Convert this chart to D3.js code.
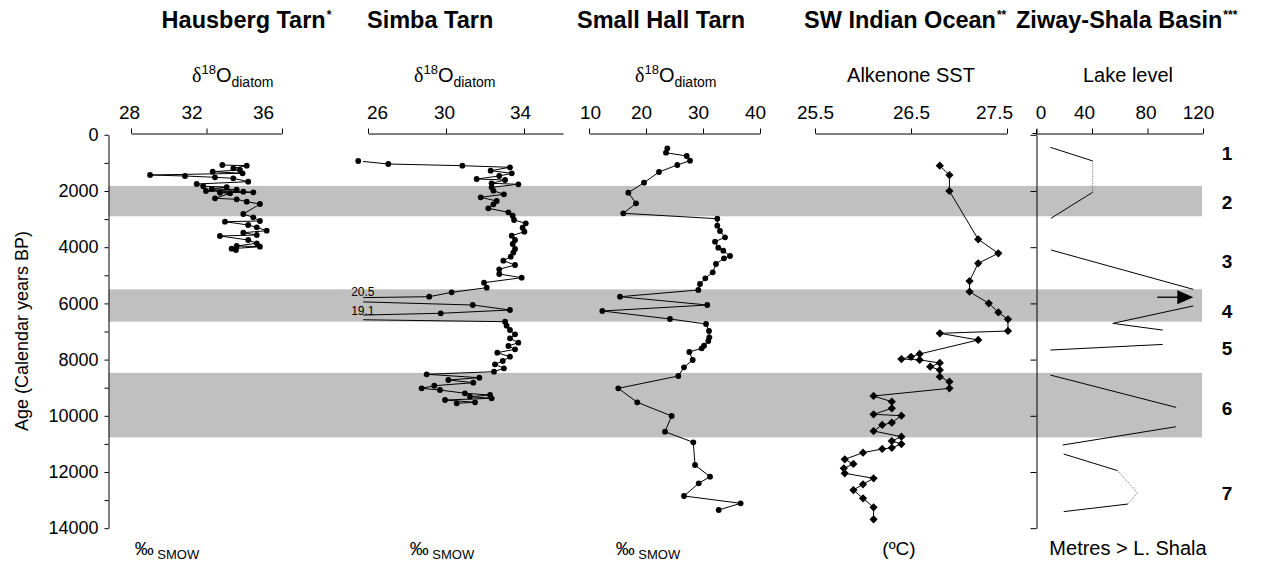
<!DOCTYPE html>
<html><head><meta charset="utf-8">
<script src="https://cdn.jsdelivr.net/npm/d3@7"></script>
<style>
body{margin:0;background:#fff;}
text{font-family:"Liberation Sans",Arial,Helvetica,sans-serif;fill:#000;}
</style>
</head><body>
<svg id="c" width="1272" height="568"></svg>
<script>
// ---------------- DATA ----------------
const ageTicks = d3.range(0, 14001, 1000);
const ziwayAgeTicks = d3.range(0, 14001, 2000);
const bands = [[1820, 2900], [5500, 6650], [8470, 10770]];

const hausbergTicks = [28, 32, 36];
const simbaTicks = [26, 30, 34];
const smallHallTicks = [10, 20, 30, 40];
const sstTicks = [25.5, 26.5, 27.5];
const lakeTicks = [0, 40, 80, 120];

// [age (cal yr BP), d18O diatom]
const hausberg = [
 [1075,32.84],[1100,34.13],[1192,33.42],[1253,33.77],[1313,32.33],[1370,33.91],[1431,29.01],[1466,30.86],
 [1513,32.45],[1548,33.42],[1669,34.21],[1751,31.48],[1830,31.83],[1860,33.07],[1925,32.28],[1955,33.60],
 [2000,31.97],[2025,33.95],[2046,34.48],[2060,32.71],[2082,33.25],[2260,32.45],[2295,33.60],[2381,34.13],
 [2463,34.83],[2819,33.95],[2936,34.48],[3068,34.83],[3092,32.98],[3210,34.21],[3292,34.66],[3413,35.19],
 [3484,33.95],[3566,34.66],[3601,32.71],[3744,34.21],[3861,34.66],[3957,33.60],[3982,34.83],[4053,33.33],
 [4100,33.56]
];
const simba = [
 [932,25.50],[1039,27.04],[1100,30.84],[1157,33.28],[1277,32.29],[1370,33.37],[1466,32.73],[1573,31.57],
 [1609,33.03],[1726,32.34],[1762,33.71],[1868,32.34],[1989,32.43],[2117,32.97],[2224,31.78],[2356,32.60],
 [2473,32.43],[2616,32.17],[2758,33.20],[2879,33.42],[3032,33.49],[3149,34.09],[3306,33.93],[3448,34.02],
 [3591,33.37],[3744,33.54],[3886,33.42],[4064,33.54],[4196,33.45],[4338,33.32],[4480,32.94],[4633,33.54],
 [4786,32.73],[4954,32.73],[5085,33.88],[5263,31.95],[5441,32.09],[5605,30.29],[5762,29.14],[5843,20.5],
 [6057,31.37],[6235,33.28],[6352,29.73],[6520,19.1],[6651,33.03],[6794,33.11],[6947,33.28],[7100,33.54],
 [7242,33.28],[7398,33.71],[7516,33.20],[7633,33.54],[7754,32.63],[7897,33.28],[8050,32.91],[8167,32.51],
 [8310,32.97],[8431,32.46],[8523,29.01],[8644,31.71],[8726,30.12],[8822,31.40],[8929,29.40],[9022,28.75],
 [9082,29.69],[9199,30.97],[9260,32.26],[9320,31.23],[9377,32.34],[9438,29.95],[9520,31.49],[9555,30.55]
];
const smallHall = [
 [480,23.74],[637,23.51],[754,27.14],[922,27.72],[1075,25.49],[1324,22.28],[1705,19.65],[2060,16.90],
 [2438,18.25],[2794,16.02],[2986,32.51],[3235,32.51],[3423,32.98],[3648,33.86],[3804,32.11],[4018,32.68],
 [4125,33.56],[4313,34.74],[4395,33.68],[4598,32.28],[4893,31.70],[5107,30.40],[5310,29.47],[5523,29.18],
 [5762,15.44],[6057,30.75],[6270,12.34],[6555,24.21],[6733,30.53],[6982,31.05],[7206,31.11],[7338,30.93],
 [7505,30.18],[7598,29.77],[7730,27.60],[8014,28.19],[8274,26.67],[8584,25.67],[9022,15.14],[9520,18.47],
 [10007,24.50],[10566,23.33],[10943,28.30],[11751,28.60],[12167,31.23],[12402,29.25],[12854,26.67],
 [13114,36.60],[13352,32.75]
];
// [age, alkenone SST degC]
const sst = [
 [1100,26.80],[1431,26.90],[2000,26.90],[3719,27.20],[4217,27.41],[4573,27.20],[5203,27.11],[5584,27.11],
 [5996,27.31],[6317,27.41],[6566,27.51],[6982,27.51],[7064,26.80],[7302,27.20],[7800,26.59],[7900,26.50],
 [7980,26.40],[8010,26.59],[8120,26.80],[8253,26.70],[8370,26.80],[8608,26.80],[8786,26.90],[9022,26.90],
 [9295,26.11],[9498,26.30],[9733,26.30],[9947,26.11],[9997,26.40],[10246,26.30],[10327,26.20],[10541,26.11],
 [10744,26.40],[10897,26.30],[11004,26.40],[11140,26.30],[11180,26.20],[11313,26.00],[11548,25.81],
 [11715,25.90],[11868,25.80],[12046,25.81],[12224,26.11],[12438,26.00],[12641,25.90],[12936,26.00],
 [13256,26.11],[13683,26.11]
];
// Ziway-Shala lake level [age, metres above L. Shala]
const lakeSolid = [
 [[445,10],[930,40.5]],
 [[2046,40.5],[2970,10.5]],
 [[4100,10.5],[5500,113]],
 [[6090,113],[6710,55],[6950,91]],
 [[7660,10],[7460,91]],
 [[8550,10],[9700,100.6]],
 [[10390,100.4],[11040,18.9]],
 [[11360,19.6],[11950,58.4]],
 [[13140,65.9],[13410,19.6]]
];
const lakeDotted = [
 [[930,40.5],[2046,40.5]],
 [[11950,58.4],[12740,72.8],[13140,65.9]]
];
const lakeArrow = {age: 5780, from: 87, to: 113};
const periods = [[1,648],[2,2380],[3,4498],[4,6270],[5,7577],[6,9733],[7,12758]];

// ---------------- LAYOUT ----------------
const svg = d3.select("#c");
svg.append("rect").attr("width",1272).attr("height",568).attr("fill","#fff");

const axisY = 133.5;
const y = d3.scaleLinear().domain([0,14000]).range([134.8, 528.2]);
const ageAxisX = 108.5;
const bandRight = 1202;

// bands
svg.append("g").selectAll("rect").data(bands).join("rect")
  .attr("x", ageAxisX).attr("width", bandRight - ageAxisX)
  .attr("y", d => y(d[0])).attr("height", d => y(d[1]) - y(d[0]))
  .attr("fill", "#c0c0c0");

// age axis
const ageG = svg.append("g").attr("transform", `translate(${ageAxisX},0)`)
  .call(d3.axisLeft(y).tickValues(ageTicks).tickSize(4).tickSizeOuter(0).tickPadding(6)
    .tickFormat(d => d % 2000 === 0 ? d : ""));
ageG.selectAll("text").attr("font-size", 18).attr("font-family", '"Liberation Sans",Arial,sans-serif');
ageG.selectAll("line,path").attr("stroke", "#000");

svg.append("text").attr("transform", "translate(28,331) rotate(-90)")
  .attr("text-anchor", "middle").attr("font-size", 18).text("Age (Calendar years BP)");

const panels = [
  {title:"Hausberg Tarn", stars:"*", titleX:161.6, domain:[28,36], range:[131,282], ticks:hausbergTicks,
   nudge:[-2,-15,-19], data:hausberg, marker:"circle", sub:"d18O", subX:192, unit:"permil", unitX:167},
  {title:"Simba Tarn", stars:"", titleX:367, domain:[26,36], range:[368,563], ticks:simbaTicks,
   nudge:[9,-2,-4], data:simba, marker:"circle", sub:"d18O", subX:414, unit:"permil", unitX:442, clipMin:25.75},
  {title:"Small Hall Tarn", stars:"", titleX:577, domain:[10,40], range:[589,760], ticks:smallHallTicks,
   nudge:[1,-5,-5,-5], data:smallHall, marker:"circle", sub:"d18O", subX:635, unit:"permil", unitX:648},
  {title:"SW Indian Ocean", stars:"**", titleX:804, domain:[25.5,27.5], range:[815,1007], ticks:sstTicks,
   nudge:[0,0,-13], data:sst, marker:"diamond", sub:"Alkenone SST", subX:911, unit:"(ºC)", unitX:899},
  {title:"Ziway-Shala Basin", stars:"***", titleX:1016, domain:[0,120], range:[1036.5,1203], ticks:lakeTicks,
   nudge:[4,-8,-2,-5], data:null, sub:"Lake level", subX:1128, unit:"Metres > L. Shala", unitX:1128}
];

panels.forEach((p, i) => {
  const x = d3.scaleLinear().domain(p.domain).range(p.range);
  // title
  const t = svg.append("text").attr("x", p.titleX).attr("y", 28)
    .attr("font-size", 23.5).attr("font-weight", "bold").text(p.title);
  if (p.stars) t.append("tspan").attr("font-size", 12).attr("dy", -9).attr("dx", 1).text(p.stars);
  // subtitle
  if (p.sub === "d18O") {
    const s = svg.append("text").attr("x", p.subX).attr("y", 82).attr("font-size", 20);
    s.append("tspan").attr("font-family", '"Liberation Serif","Times New Roman",serif').text("δ");
    s.append("tspan").attr("font-size", 13).attr("dy", -8).text("18");
    s.append("tspan").attr("dy", 8).text("O");
    s.append("tspan").attr("font-size", 14).attr("dy", 5).text("diatom");
  } else {
    svg.append("text").attr("x", p.subX).attr("y", 82).attr("font-size", 20)
      .attr("text-anchor", "middle").text(p.sub);
  }
  // top axis
  const ax = svg.append("g").attr("transform", `translate(0,${axisY})`)
    .call(d3.axisTop(x).tickValues(p.ticks).tickSize(5).tickSizeOuter(0).tickPadding(10)
      .tickFormat(d => String(d)));
  ax.selectAll("text").attr("font-size", 19).attr("font-family", '"Liberation Sans",Arial,sans-serif')
    .attr("dx", (d, k) => p.nudge[k] || 0);
  ax.selectAll("line,path").attr("stroke", "#000");
  // unit label
  if (p.unit === "permil") {
    const u = svg.append("text").attr("x", p.unitX).attr("y", 555).attr("font-size", 19).attr("text-anchor","middle");
    u.append("tspan").text("‰");
    u.append("tspan").attr("font-size", 13).attr("dy", 4).text(" SMOW");
  } else {
    svg.append("text").attr("x", p.unitX).attr("y", 555).attr("font-size", p.data ? 19 : 20)
      .attr("text-anchor", "middle").text(p.unit);
  }

  if (p.data) {
    const line = d3.line().x(d => x(d[1])).y(d => y(d[0]));
    const path = svg.append("path").datum(p.data).attr("d", line)
      .attr("fill", "none").attr("stroke", "#000").attr("stroke-width", 1);
    let vis = p.data;
    if (p.clipMin !== undefined) {
      const cx = x(p.clipMin);
      svg.append("clipPath").attr("id", "clip" + i).append("rect")
        .attr("x", cx).attr("y", 0).attr("width", 1272 - cx).attr("height", 568);
      path.attr("clip-path", `url(#clip${i})`);
      vis = p.data.filter(d => d[1] >= 25);
      const off = p.data.filter(d => d[1] < 25);
      svg.append("g").selectAll("text").data(off).join("text")
        .attr("x", cx - 12).attr("y", d => y(d[0]) - 3).attr("font-size", 12)
        .text(d => d[1].toFixed(1));
    }
    if (p.marker === "circle") {
      svg.append("g").selectAll("circle").data(vis).join("circle")
        .attr("cx", d => x(d[1])).attr("cy", d => y(d[0])).attr("r", 2.9).attr("fill", "#000");
    } else {
      const sym = d3.symbol(d3.symbolSquare, 34)();
      svg.append("g").selectAll("path").data(vis).join("path")
        .attr("d", sym)
        .attr("transform", d => `translate(${x(d[1])},${y(d[0])}) rotate(45)`)
        .attr("fill", "#000");
    }
  } else {
    // Ziway-Shala panel
    const za = svg.append("g").attr("transform", `translate(${x(0)},0)`)
      .call(d3.axisLeft(y).tickValues(ziwayAgeTicks).tickSize(6).tickSizeOuter(0).tickFormat(""));
    za.selectAll("line,path").attr("stroke", "#000");
    svg.append("line").attr("x1", x(0)).attr("x2", x(0)).attr("y1", axisY - 4).attr("y2", y(0))
      .attr("stroke", "#000");
    svg.append("line").attr("x1", x(0) - 4).attr("x2", x(0)).attr("y1", axisY).attr("y2", axisY)
      .attr("stroke", "#000");
    const line = d3.line().x(d => x(d[1])).y(d => y(d[0]));
    svg.append("g").selectAll("path").data(lakeSolid).join("path")
      .attr("d", line).attr("fill", "none").attr("stroke", "#000").attr("stroke-width", 1);
    svg.append("g").selectAll("path").data(lakeDotted).join("path")
      .attr("d", line).attr("fill", "none").attr("stroke", "#444").attr("stroke-width", 0.8)
      .attr("stroke-dasharray", "1,1.2");
    // arrow
    const ay = y(lakeArrow.age), ax0 = x(lakeArrow.from), ax1 = x(lakeArrow.to);
    svg.append("line").attr("x1", ax0).attr("x2", ax1 - 14).attr("y1", ay).attr("y2", ay)
      .attr("stroke", "#000").attr("stroke-width", 1.3);
    svg.append("path").attr("d", `M${ax1},${ay} L${ax1 - 16},${ay - 7} L${ax1 - 16},${ay + 7} Z`)
      .attr("fill", "#000");
    // period numbers
    svg.append("g").selectAll("text").data(periods).join("text")
      .attr("x", 1227).attr("y", d => y(d[1])).attr("dy", "0.36em")
      .attr("text-anchor", "middle").attr("font-size", 19).attr("font-weight", "bold")
      .text(d => d[0]);
  }
});
</script>
</body></html>
